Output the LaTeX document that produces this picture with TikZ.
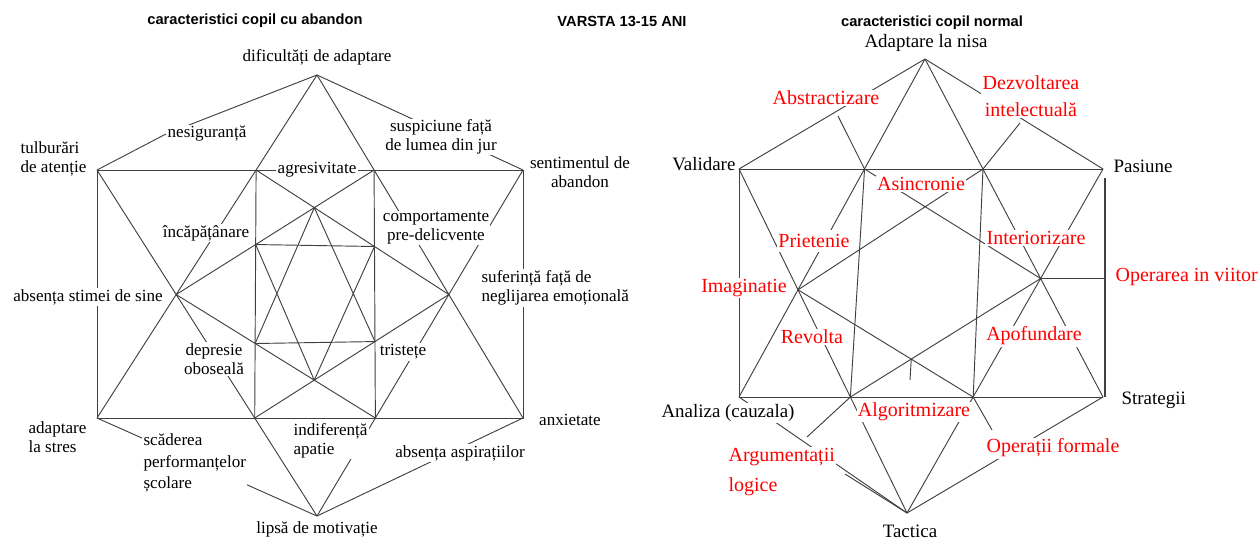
\documentclass[tikz,border=0pt]{standalone}
\usepackage{fontspec}
\setmainfont{Liberation Serif}
\setsansfont{Liberation Sans}
\newfontfamily\lserif{Liberation Serif}
\tikzset{
  ln/.style={line width=0.7pt, black!75},
  lbl/.style={font=\lserif\fontsize{12.8}{14}\selectfont, inner sep=1pt, fill=white, align=center},
  blk/.style={font=\lserif\fontsize{14.2}{16}\selectfont, inner sep=1pt, fill=white},
  rlbl/.style={font=\lserif\fontsize{15}{20}\selectfont, text=red, inner sep=1pt, fill=white, align=center},
  ttl/.style={font=\sffamily\bfseries\fontsize{11}{13}\selectfont}
}

\begin{document}
\begin{tikzpicture}[x=0.75pt, y=-0.75pt]
\useasboundingbox (0,0) rectangle (1260,539);

% left star: caracteristici copil cu abandon
\coordinate (A) at (317,75);
\coordinate (TL) at (97,170);
\coordinate (TR) at (523,170);
\coordinate (BL) at (97,418);
\coordinate (BR) at (523,418);
\coordinate (B) at (317,516);
\coordinate (AgL) at (intersection of A--BL and TL--TR);
\coordinate (AgR) at (intersection of A--BR and TL--TR);
\coordinate (LM) at (intersection of A--BL and TL--B);
\coordinate (RM) at (intersection of A--BR and TR--B);
\coordinate (BiL) at (intersection of TL--B and BL--BR);
\coordinate (BiR) at (intersection of TR--B and BL--BR);
\coordinate (IT) at (intersection of LM--AgR and RM--AgL);
\coordinate (IB) at (intersection of LM--BiR and RM--BiL);
\coordinate (SqTL) at (intersection of LM--AgR and AgL--BiL);
\coordinate (SqTR) at (intersection of RM--AgL and AgR--BiR);
\coordinate (SqBL) at (intersection of LM--BiR and AgL--BiL);
\coordinate (SqBR) at (intersection of RM--BiL and AgR--BiR);
\coordinate (nesW) at (166,134);

\draw[ln] (TL) -- (TR) -- (BR) -- (BL) -- cycle;
\draw[ln] (A) -- (BL) (A) -- (BR) (TL) -- (B) (TR) -- (B);
\draw[ln] (A) -- (nesW) -- (TL) (A) -- (TR) (BL) -- (B) (BR) -- (B);
\draw[ln] (AgL) -- (BiL) (AgR) -- (BiR);
\draw[ln] (LM) -- (AgR) (LM) -- (BiR) (RM) -- (AgL) (RM) -- (BiL);
\draw[ln] (SqTL) -- (SqTR) (SqBL) -- (SqBR);
\draw[ln] (IT) -- (SqBL) (IT) -- (SqBR) (IB) -- (SqTL) (IB) -- (SqTR);

% right star: caracteristici copil normal
\coordinate (A2) at (925,59);
\coordinate (TL2) at (739,169);
\coordinate (TR2) at (1103,169);
\coordinate (BL2) at (739,397);
\coordinate (BR2) at (1103,397);
\coordinate (B2) at (907,513);
\coordinate (N1) at (intersection of A2--BL2 and TL2--TR2);
\coordinate (N2) at (intersection of A2--BR2 and TL2--TR2);
\coordinate (LM2) at (intersection of A2--BL2 and TL2--B2);
\coordinate (RM2) at (intersection of A2--BR2 and TR2--B2);
\coordinate (M1) at (intersection of TL2--B2 and BL2--BR2);
\coordinate (M2) at (intersection of TR2--B2 and BL2--BR2);
\coordinate (Xt) at (intersection of LM2--N2 and RM2--N1);
\coordinate (Xb) at (intersection of LM2--M2 and RM2--M1);
\coordinate (XbS) at (910,380);
\coordinate (RV) at (1105,178);
\coordinate (abstB) at (838,116);
\coordinate (dezvB) at (1020,123);
\coordinate (argT) at (807,437);
\coordinate (argB) at (845,474);
\coordinate (opfT) at (992,430);

\draw[ln] (TL2) -- (TR2) (TL2) -- (BL2) -- (BR2);
\draw[ln, line width=1.5pt] (RV) -- (BR2 -| RV);
\draw[ln] (A2) -- (BL2) (A2) -- (BR2) (TL2) -- (B2) (TR2) -- (B2);
\draw[ln] (A2) -- (TL2) (A2) -- (TR2) (BL2) -- (B2) (BR2) -- (B2);
\draw[ln] (abstB) -- (N1) (dezvB) -- (N2);
\draw[ln] (N1) -- (M1) (N2) -- (M2);
\draw[ln] (LM2) -- (N2) (RM2) -- (N1) (LM2) -- (M2) (RM2) -- (M1);
\draw[ln] (Xb) -- (XbS);
\draw[ln] (RM2) -- (RM2 -| RV);
\draw[ln] (M1) -- (argT) (argB) -- (B2) (M2) -- (opfT);

% titles
\node[ttl] (t1) at (255,21) {caracteristici copil cu abandon};
\node[ttl] (t2) at (622,21) {VARSTA 13-15 ANI};
\node[ttl] (t3) at (932,23) {caracteristici copil normal};

% left labels
\node[lbl] (dif) at (317,57) {dificultăți de adaptare};
\node[lbl] (nes) at (207,134) {nesiguranță};
\node[lbl] (sus) at (441,137) {suspiciune față\\de lumea din jur};
\node[lbl, align=left, anchor=west] (tul) at (19,159) {tulburări\\de atenție};
\node[lbl] (sen) at (580,172) {sentimentul de\\abandon};
\node[lbl] (agr) at (317,170) {agresivitate};
\node[lbl] (inc) at (206,233) {încăpățânare};
\node[lbl] (com) at (436,228) {comportamente\\pre-delicvente};
\node[lbl] (ass) at (88,297) {absența stimei de sine};
\node[lbl, align=left, anchor=west] (suf) at (480,288) {suferință față de\\neglijarea emoțională};
\node[lbl] (dep) at (214,359) {depresie\\oboseală};
\node[lbl] (tri) at (403,352) {tristețe};
\node[lbl, align=left, anchor=west] (ind) at (292,441) {indiferență\\apatie};
\node[lbl, align=left, anchor=west] (ads) at (27,437) {adaptare\\la stres};
\node[lbl, align=left, anchor=west] (sca) at (142,463) {scăderea\\[2pt]performanțelor\\[2pt]școlare};
\node[lbl] (anx) at (570,420) {anxietate};
\node[lbl] (asp) at (460,453) {absența aspirațiilor};
\node[lbl] (lip) at (317,529) {lipsă de motivație};

% right labels
\node[blk] (ada) at (926,43) {Adaptare la nisa};
\node[rlbl] (abs) at (826,98) {Abstractizare};
\node[rlbl] (dez) at (1031,96) {Dezvoltarea\\intelectuală};
\node[blk, anchor=east] (val) at (737,164) {Validare};
\node[blk, anchor=west] (pas) at (1112,166) {Pasiune};
\node[rlbl] (asi) at (921,184) {Asincronie};
\node[rlbl, inner ysep=3pt] (pri) at (814,241) {Prietenie};
\node[rlbl] (int) at (1036,238) {Interiorizare};
\node[rlbl] (ima) at (744,288) {Imaginatie};
\node[rlbl, anchor=west] (ope) at (1114,277) {Operarea in viitor};
\node[rlbl] (rev) at (812,337) {Revolta};
\node[rlbl] (apo) at (1034,336) {Apofundare};
\node[blk] (ana) at (728,413) {Analiza (cauzala)};
\node[rlbl] (alg) at (914,412) {Algoritmizare};
\node[blk, anchor=west] (str) at (1120,400) {Strategii};
\node[rlbl, align=left, anchor=west] (arg) at (727,472) {Argumentații\\[3pt]logice};
\node[rlbl] (opf) at (1053,448) {Operații formale};
\node[blk] (tac) at (910,531) {Tactica};
\end{tikzpicture}
\end{document}
